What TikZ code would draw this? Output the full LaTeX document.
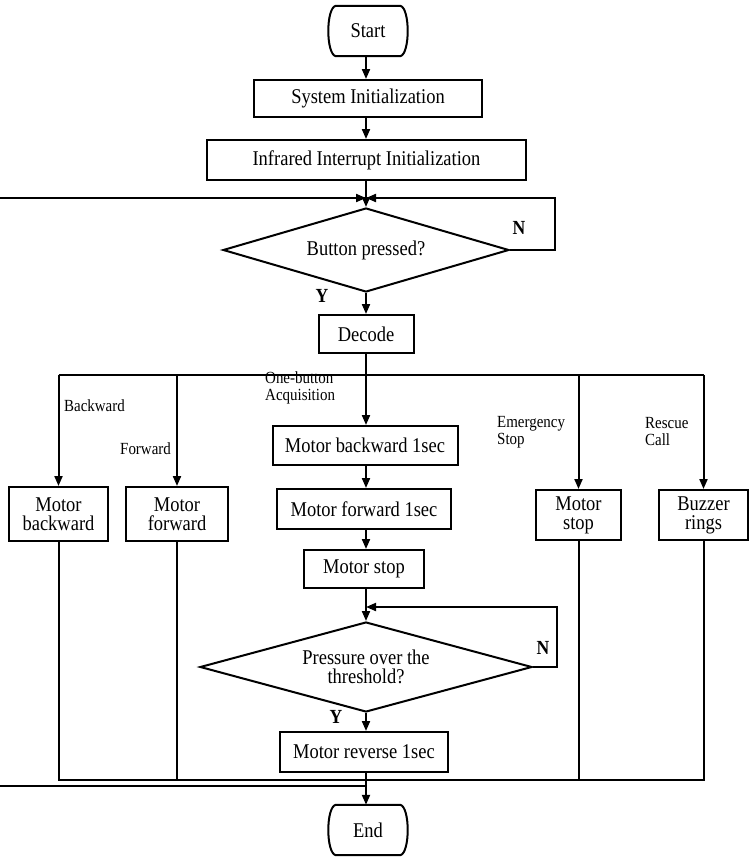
\documentclass[tikz,border=0pt]{standalone}
\usepackage{fontspec}
\setmainfont{Liberation Serif}[FakeStretch=0.88]
\usetikzlibrary{shapes.geometric,arrows.meta,calc}
\newcommand\termpath[1]{%
  \draw[line width=2pt] ($(#1.north west)+(7,0)$) -- ($(#1.north east)+(-7,0)$)
   .. controls ($(#1.north east)+(3,2)$) and ($(#1.south east)+(3,-2)$) .. ($(#1.south east)+(-7,0)$)
   -- ($(#1.south west)+(7,0)$)
   .. controls ($(#1.south west)+(-3,-2)$) and ($(#1.north west)+(-3,2)$) .. cycle;}
\begin{document}
\begin{tikzpicture}[x=1pt,y=-1pt,
  every node/.style={font=\fontsize{21}{19}\selectfont},
  box/.style={draw,line width=2pt,inner sep=0pt,align=center},
  term/.style={inner sep=0pt,minimum width=78pt,minimum height=50pt},
  dec/.style={draw,line width=2pt,shape=diamond,aspect=3.5,inner sep=0pt,align=center},
  line/.style={line width=2pt},
  arr/.style={line width=2pt,-{Triangle[length=10pt,width=8pt]}},
  lab/.style={font=\fontsize{17}{17}\selectfont,align=left,anchor=west,inner sep=0pt},
  yn/.style={font=\fontsize{20}{22}\selectfont\bfseries,inner sep=0pt}]
\useasboundingbox (0,0) rectangle (755,862);
\fill[white] (0,0) rectangle (755,862);

% main column
\node[term] (start) at (368,31) {Start};
\termpath{start}
\node[box,minimum width=228pt,minimum height=37pt] (init) at (368,98.5) {System Initialization};
\node[box,minimum width=319pt,minimum height=40pt] (irinit) at (366.5,160) {Infrared Interrupt Initialization};
\coordinate (j1) at (366,198);
\node[dec,minimum width=286pt,minimum height=84pt] (btn) at (366,250) {Button pressed?};
\node[box,minimum width=95pt,minimum height=38pt] (decode) at (366,334) {Decode};
\node[box,minimum width=185pt,minimum height=39pt] (mb1) at (365,445.5) {Motor backward 1sec};
\node[box,minimum width=174pt,minimum height=40pt] (mf1) at (364,509) {Motor forward 1sec};
\node[box,minimum width=120pt,minimum height=38pt] (ms) at (364,569) {Motor stop};
\coordinate (j2) at (366,607);
\node[dec,minimum width=332pt,minimum height=90pt] (pd) at (366,667) {Pressure over the\\threshold?};
\node[box,minimum width=168pt,minimum height=40pt] (mr) at (364,752) {Motor reverse 1sec};
\node[term] (end) at (368,830) {End};
\termpath{end}

% side boxes
\node[box,minimum width=99pt,minimum height=54pt] (mbk) at (58.5,514) {Motor\\backward};
\node[box,minimum width=102pt,minimum height=54pt] (mfw) at (177,514) {Motor\\forward};
\node[box,minimum width=85pt,minimum height=50pt] (mst) at (578.5,515) {Motor\\stop};
\node[box,minimum width=89pt,minimum height=50pt] (bz) at (703.5,515) {Buzzer\\rings};

% coordinates
\coordinate (L1) at (0,198);
\coordinate (L2) at (0,786);
\coordinate (busT) at (0,375);
\coordinate (busB) at (0,780);
\coordinate (nx1) at (555,0);
\coordinate (nx2) at (557,0);
\coordinate (jE) at (366,786);

% connectors main
\draw[arr] (start.south -| j1) -- (init.north -| j1);
\draw[arr] (init.south -| j1) -- (irinit.north -| j1);
\draw[line] (irinit.south -| j1) -- (j1);
\draw[arr] (L1) -- (j1);
\draw[arr] (btn.east) -- (btn.east -| nx1) |- (j1);
\draw[arr] (j1) -- (btn.north);
\draw[arr] (btn.south) -- (decode.north);
\draw[arr] (decode.south) -- (mb1.north -| decode.south);
\draw[arr] (mb1.south -| j2) -- (mf1.north -| j2);
\draw[arr] (mf1.south -| j2) -- (ms.north -| j2);
\draw[line] (ms.south -| j2) -- (j2);
\draw[arr] (j2) -- (pd.north);
\draw[arr] (pd.east) -- (pd.east -| nx2) |- (j2);
\draw[arr] (pd.south) -- (mr.north -| pd.south);
\draw[arr] (mr.south -| jE) -- (end.north -| jE);
\draw[line] (L2) -- (jE);

% top bus
\draw[line] (mbk.north |- busT) -- (bz.north |- busT);
\draw[arr] (mbk.north |- busT) -- (mbk.north);
\draw[arr] (mfw.north |- busT) -- (mfw.north);
\draw[arr] (mst.north |- busT) -- (mst.north);
\draw[arr] (bz.north |- busT) -- (bz.north);

% bottom bus
\draw[line] (mbk.south) -- (mbk.south |- busB) -- (bz.south |- busB) -- (bz.south);
\draw[line] (mfw.south) -- (mfw.south |- busB);
\draw[line] (mst.south) -- (mst.south |- busB);

% labels
\node[yn] (n1) at (519,228) {N};
\node[yn] (y1) at (322,296) {Y};
\node[yn] (n2) at (543,648) {N};
\node[yn] (y2) at (336,717) {Y};
\node[lab] (lb1) at (64,406) {Backward};
\node[lab] (lb2) at (120,449) {Forward};
\node[lab] (lb3) at (265,388) {One-button\\Acquisition};
\node[lab] (lb4) at (497,432) {Emergency\\Stop};
\node[lab] (lb5) at (645,432) {Rescue\\Call};
\end{tikzpicture}
\end{document}
